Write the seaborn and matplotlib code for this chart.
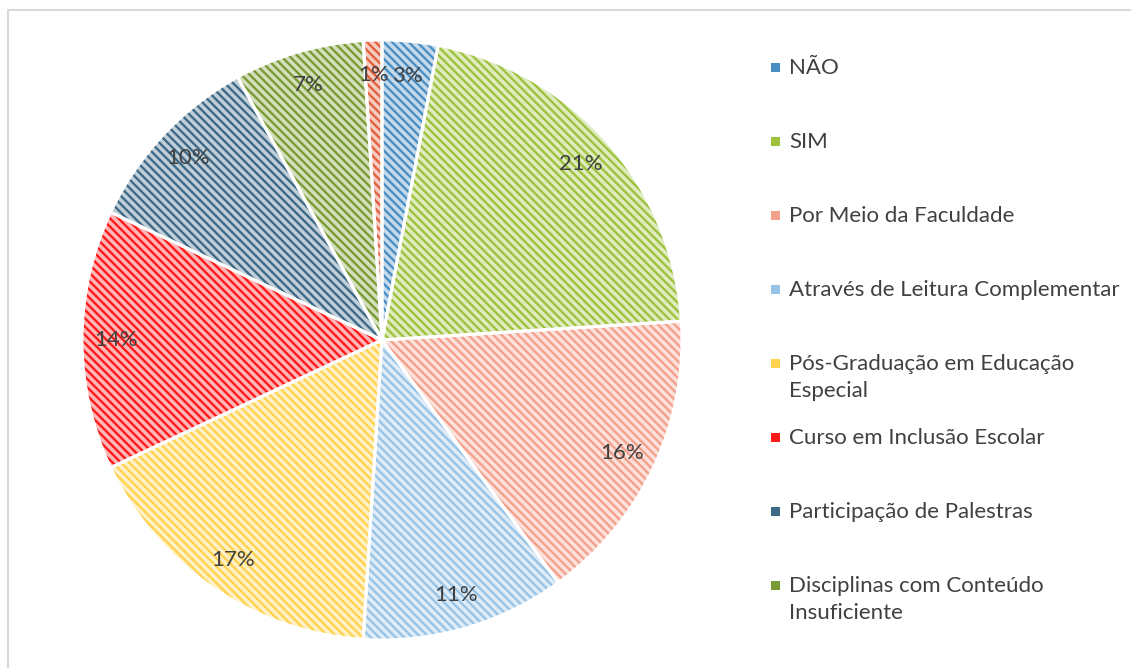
import numpy as np
import seaborn as sns
import matplotlib.pyplot as plt
from matplotlib.colors import to_rgb
from matplotlib.patches import Rectangle

# slice data (percent), clockwise from 12 o'clock
categories = ['NÃO', 'SIM', 'Por Meio da Faculdade', 'Através de Leitura Complementar',
              'Pós-Graduação em Educação\nEspecial', 'Curso em Inclusão Escolar',
              'Participação de Palestras', 'Disciplinas com Conteúdo\nInsuficiente', 'Outros']
values = [3, 21, 16, 11, 17, 14, 10, 7, 1]
colors = ['#4A8FC4', '#9DC23B', '#F2A08C', '#97C3E6', '#FFD24F',
          '#FF1A1A', '#3E6A87', '#7A9A34', '#E2603C']
legend_count = 8  # the last entry is cut off in the original legend

TEXT_COLOR = '#404040'


def tint(c, amount=0.68):
    r, g, b = to_rgb(c)
    return (r + (1 - r) * amount, g + (1 - g) * amount, b + (1 - b) * amount)


def main():
    sns.set_theme(style='white')
    plt.rcParams['font.family'] = ['Lato', 'DejaVu Sans']
    plt.rcParams['hatch.linewidth'] = 1.7

    fig = plt.figure(figsize=(11.31, 6.68), dpi=100)
    ax = fig.add_axes([82 / 1131, 28 / 668, 600 / 1131, 600 / 668])

    # hatched fill, hatch takes the edge colour
    wedges, _, autotexts = ax.pie(
        values, startangle=90, counterclock=False,
        colors=[tint(c) for c in colors],
        autopct='%1.0f%%', pctdistance=0.885,
        wedgeprops=dict(linewidth=0, hatch='\\\\\\\\'),
        textprops=dict(color=TEXT_COLOR, fontsize=16))
    for w, c in zip(wedges, colors):
        w.set_edgecolor(c)
        w.set_linewidth(0)

    # white separators on top
    ax.pie(values, startangle=90, counterclock=False,
           wedgeprops=dict(fill=False, edgecolor='white', linewidth=2.2))
    for t in autotexts:
        t.set_zorder(5)
    ax.set_xlim(-1, 1)
    ax.set_ylim(-1, 1)
    ax.set_aspect('equal')

    # legend drawn by hand so wrapped labels keep the first line next to the marker
    for i in range(legend_count):
        y = 1 - (67 + 74.0 * i) / 668
        fig.patches.append(Rectangle((771 / 1131, y - 4.5 / 668), 9 / 1131, 9 / 668,
                                     transform=fig.transFigure, facecolor=colors[i],
                                     edgecolor='none', figure=fig))
        fig.text(789 / 1131, y + 9 / 668, categories[i], ha='left', va='top',
                 fontsize=16, color=TEXT_COLOR, linespacing=1.45)

    # light chart frame
    fig.patches.append(Rectangle((8 / 1131, -0.05), 1.2, 1.05 - 10 / 668,
                                 transform=fig.transFigure, fill=False,
                                 edgecolor='#D9D9D9', linewidth=1.5, figure=fig))

    fig.savefig('out.png', dpi=100)


if __name__ == '__main__':
    main()
